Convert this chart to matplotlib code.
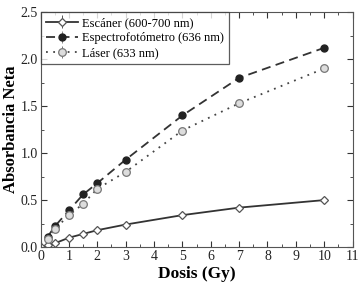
import matplotlib.pyplot as plt
from matplotlib.ticker import MultipleLocator

plt.rcParams["font.family"] = ["Liberation Serif", "DejaVu Serif"]

# ─────────────────────────────────────────────
# DATA
# ─────────────────────────────────────────────
dosis = [0, 0.25, 0.5, 1, 1.5, 2, 3, 5, 7, 10]

escaner = [0.0, 0.02, 0.04, 0.10, 0.14, 0.18, 0.24, 0.34, 0.42, 0.50]
escaner_err = [0.01, 0.015, 0.02, 0.02, 0.02, 0.02, 0.02, 0.02, 0.02, 0.02]

dosis_ls = [0.25, 0.5, 1, 1.5, 2, 3, 5, 7, 10]
espectro = [0.11, 0.22, 0.39, 0.56, 0.68, 0.93, 1.40, 1.80, 2.12]
espectro_err = [0.04, 0.02, 0.02, 0.02, 0.02, 0.02, 0.02, 0.02, 0.02]

laser = [0.09, 0.19, 0.34, 0.46, 0.62, 0.80, 1.24, 1.53, 1.90]
laser_err = [0.05, 0.02, 0.02, 0.02, 0.02, 0.02, 0.02, 0.02, 0.02]

labels = ["Escáner (600-700 nm)", "Espectrofotómetro (636 nm)", "Láser (633 nm)"]

# ─────────────────────────────────────────────
# PLOT
# ─────────────────────────────────────────────
fig = plt.figure(figsize=(3.59, 2.88), dpi=100)
ax = fig.add_axes([0.113, 0.142, 0.869, 0.816])

ax.errorbar(dosis, escaner, yerr=escaner_err, color="#333333", lw=1.3,
            marker="D", ms=4.5, mfc="white", mec="#555555", mew=0.9,
            ecolor="#555555", elinewidth=0.7, capsize=0, label=labels[0])
ax.errorbar(dosis_ls, espectro, yerr=espectro_err, color="#333333", lw=1.3,
            ls=(0, (5, 3)), marker="o", ms=5, mfc="#222222", mec="#222222",
            ecolor="#888888", elinewidth=0.7, capsize=0, label=labels[1])
ax.errorbar(dosis_ls, laser, yerr=laser_err, color="#444444", lw=1.3,
            ls=(0, (1, 3)), marker="o", ms=5.5, mfc="#dddddd", mec="#777777", mew=0.9,
            ecolor="#777777", elinewidth=0.7, capsize=0, label=labels[2])

ax.set_xlim(0, 11)
ax.set_ylim(0, 2.5)
ax.xaxis.set_major_locator(MultipleLocator(1))
ax.xaxis.set_minor_locator(MultipleLocator(0.5))
ax.yaxis.set_major_locator(MultipleLocator(0.5))
ax.yaxis.set_minor_locator(MultipleLocator(0.25))
ax.tick_params(which="both", direction="in", top=True, right=True,
               labelsize=10, pad=2, colors="#333333", labelcolor="#222222")
ax.tick_params(which="major", length=4)
ax.tick_params(which="minor", length=2)
ax.yaxis.set_major_formatter(plt.FuncFormatter(lambda v, p: f"{v:.1f}"))
for s in ax.spines.values():
    s.set_color("#555555")

ax.set_xlabel("Dosis (Gy)", fontsize=12.5, fontweight="bold", labelpad=2)
ax.set_ylabel("Absorbancia Neta", fontsize=12, fontweight="bold", labelpad=1)

leg = ax.legend(loc="upper left", fontsize=9, frameon=True, fancybox=False,
                borderaxespad=0, handlelength=2.6, handletextpad=0.3,
                borderpad=0.4, labelspacing=0.25)
leg.get_frame().set_edgecolor("#333333")
leg.get_frame().set_linewidth(0.9)

fig.savefig("out.png", dpi=100)
